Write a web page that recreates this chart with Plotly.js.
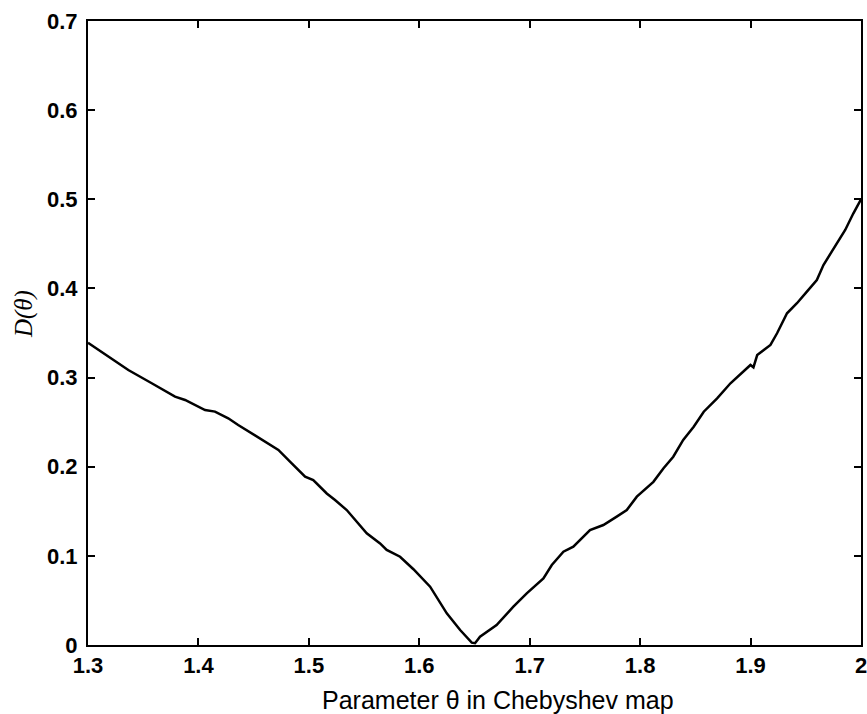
<!DOCTYPE html>
<html>
<head>
<meta charset="utf-8">
<script src="https://cdn.plot.ly/plotly-3.0.1.min.js"></script>
<style>html,body{margin:0;padding:0;background:#fff;}#chart{width:867px;height:714px;}</style>
</head>
<body>
<div id="chart"></div>
<script>
var theta = [1.300,1.320,1.3365,1.3577,1.3788,1.3879,1.406,1.415,1.427,1.436,1.448,1.4724,1.4845,1.492,1.4966,1.504,1.5162,1.5237,1.5343,1.5524,1.5645,1.5705,1.5766,1.5826,1.5947,1.6098,1.6249,1.6370,1.6475,1.6505,1.655,1.670,1.6852,1.6973,1.7124,1.720,1.7305,1.7395,1.7546,1.7667,1.7788,1.7879,1.797,1.812,1.821,1.830,1.839,1.8485,1.8576,1.8697,1.8818,1.8938,1.8999,1.9026,1.906,1.918,1.924,1.933,1.942,1.951,1.960,1.966,1.975,1.9857,1.993,1.9978,2.0];
var dValues = [0.339,0.322,0.3085,0.2936,0.2786,0.2749,0.2636,0.2618,0.2543,0.2468,0.2375,0.2188,0.2038,0.1944,0.1888,0.185,0.170,0.1627,0.1514,0.1253,0.114,0.1066,0.1028,0.099,0.085,0.0654,0.0355,0.0168,0.0026,0.002,0.0093,0.0224,0.043,0.058,0.0748,0.0897,0.1047,0.1103,0.129,0.1346,0.144,0.1514,0.1664,0.183,0.198,0.2112,0.230,0.2449,0.2617,0.2767,0.2936,0.3066,0.3141,0.3115,0.3253,0.3366,0.3497,0.3721,0.3834,0.3964,0.4095,0.4263,0.445,0.4656,0.484,0.4955,0.50];
var xTicks = [1.3,1.4,1.5,1.6,1.7,1.8,1.9,2];
var xTickText = ['1.3','1.4','1.5','1.6','1.7','1.8','1.9','2'];
var yTicks = [0,0.1,0.2,0.3,0.4,0.5,0.6,0.7];
var yTickText = ['0','0.1','0.2','0.3','0.4','0.5','0.6','0.7'];
var xLabel = 'Parameter θ in Chebyshev map';
var yLabel = 'D(θ)';

var tickFont = {family:'Liberation Sans, Arial, sans-serif', size:22, color:'#000', weight:'bold'};
var trace = {x:theta, y:dValues, mode:'lines', type:'scatter', line:{color:'#000', width:2.5}, hoverinfo:'skip'};
var layout = {
  width:867, height:714,
  margin:{l:88, r:6, t:21, b:69},
  paper_bgcolor:'#fff', plot_bgcolor:'#fff',
  showlegend:false,
  xaxis:{range:[1.3,2.0], tickvals:xTicks, ticktext:xTickText, ticks:'inside', ticklen:7, tickwidth:2, tickcolor:'#000',
         showline:true, linecolor:'#000', linewidth:2, mirror:'ticks', showgrid:false, zeroline:false,
         tickfont:tickFont, ticklabelstandoff:0, ticklabeloverflow:'allow'},
  yaxis:{range:[0,0.7], tickvals:yTicks, ticktext:yTickText, ticks:'inside', ticklen:7, tickwidth:2, tickcolor:'#000',
         showline:true, linecolor:'#000', linewidth:2, mirror:'ticks', showgrid:false, zeroline:false,
         tickfont:tickFont, ticklabelstandoff:4},
  annotations:[
    {text:xLabel, xref:'paper', yref:'paper', x:0.531, y:-0.0625, xanchor:'center', yanchor:'top', showarrow:false,
     font:{family:'Liberation Sans, Arial, sans-serif', size:25, color:'#000'}},
    {text:'<i>'+yLabel+'</i>', xref:'paper', yref:'paper', x:-0.083, y:0.53, xanchor:'center', yanchor:'middle', showarrow:false, textangle:-90,
     font:{family:'Liberation Serif, Times New Roman, serif', size:25, color:'#000'}}
  ]
};
Plotly.newPlot('chart',[trace],layout,{displayModeBar:false, staticPlot:true});
</script>
</body>
</html>
